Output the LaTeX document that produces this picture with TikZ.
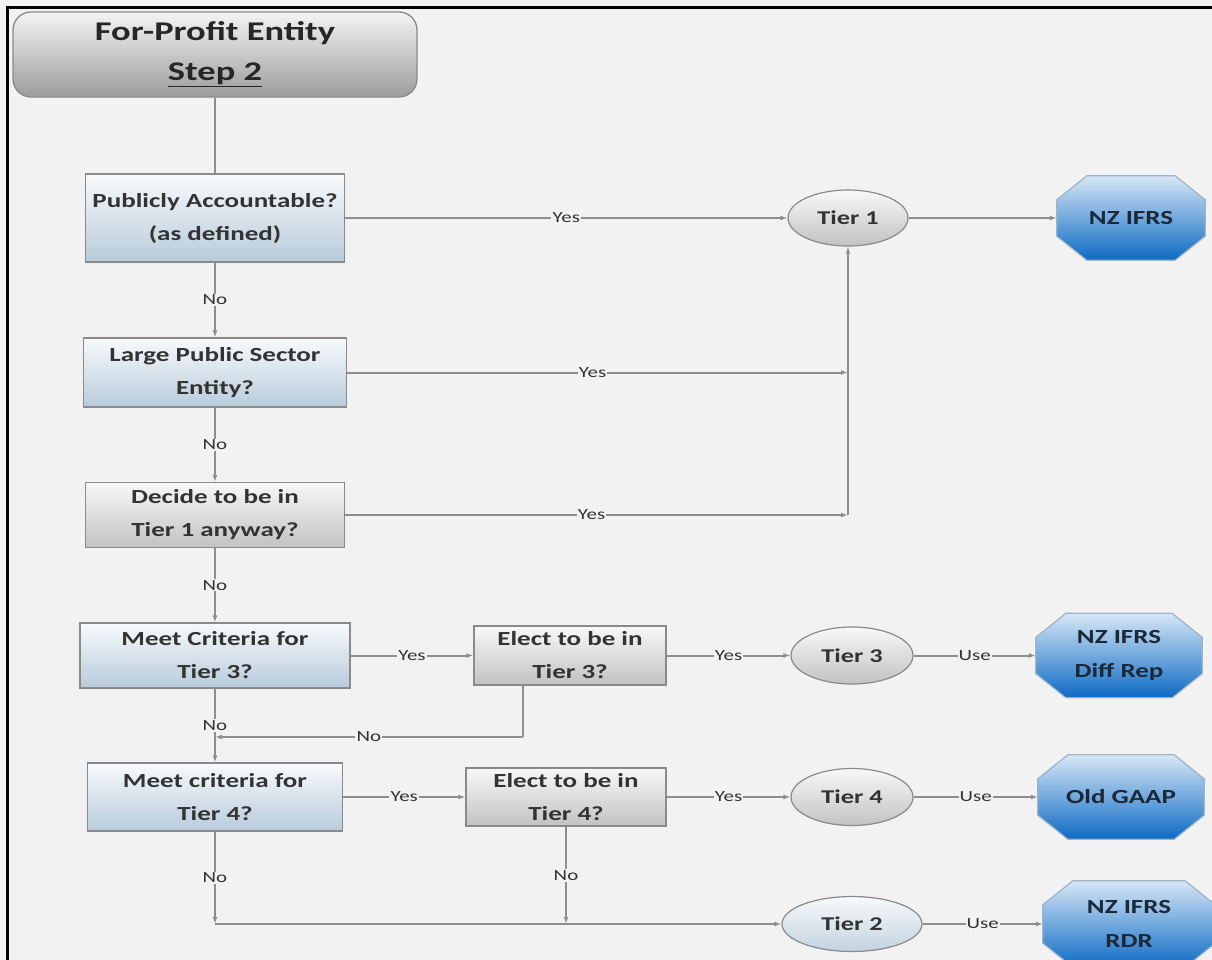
\documentclass[tikz,border=0pt]{standalone}
\usepackage{fontspec}
\setmainfont{Carlito}[FakeStretch=1.35]
\usetikzlibrary{arrows.meta,calc,backgrounds,shapes.geometric}
\definecolor{bg}{HTML}{F2F2F2}
\definecolor{boxline}{HTML}{8A8A8A}
\definecolor{linec}{HTML}{8E8E8E}
\definecolor{blueTop}{HTML}{F8FAFC}
\definecolor{blueBot}{HTML}{B8CBDB}
\definecolor{grayTop}{HTML}{F8F8F8}
\definecolor{grayBot}{HTML}{C2C2C2}
\definecolor{titleTop}{HTML}{F4F4F4}
\definecolor{titleBot}{HTML}{9C9C9C}
\definecolor{octTop}{HTML}{D6E7F6}
\definecolor{octBot}{HTML}{0D6AC3}
\definecolor{octLine}{HTML}{9FB3C6}
\definecolor{txt}{HTML}{333333}
\definecolor{octTxt}{HTML}{1B2838}
\tikzset{
  boxblue/.style={draw=boxline, line width=1.3pt, top color=blueTop, bottom color=blueBot,
    text=txt, font=\bfseries\fontsize{20}{33}\selectfont, align=center, inner sep=0pt},
  boxgray/.style={boxblue, top color=grayTop, bottom color=grayBot},
  tier/.style={ellipse, draw=boxline, line width=1.2pt, top color=grayTop, bottom color=grayBot,
    text=txt, font=\bfseries\fontsize{19.5}{22}\selectfont, inner sep=0pt,
    minimum width=122, minimum height=57},
  octo/.style={inner sep=0pt, align=center, text=octTxt,
    font=\bfseries\fontsize{20}{34}\selectfont},
  octshape/.style={draw=octLine, line width=1.2pt, top color=octTop, bottom color=octBot},
  lbl/.style={fill=bg, inner sep=1.2pt, text=txt, font=\fontsize{15.5}{16}\selectfont},
  conn/.style={draw=linec, line width=2pt},
  arr/.style={conn, -{Latex[length=7pt,width=5pt]}}
}
\newcommand{\octpath}[1]{%
  ($(#1.north west)+(30,0)$) -- ($(#1.north east)+(-30,0)$) --
  ($(#1.north east)+(0,24)$) -- ($(#1.south east)+(0,-24)$) --
  ($(#1.south east)+(-30,0)$) -- ($(#1.south west)+(30,0)$) --
  ($(#1.south west)+(0,-24)$) -- ($(#1.north west)+(0,24)$) -- cycle}
\begin{document}
\begin{tikzpicture}[x=1pt, y=-1pt]
\useasboundingbox (0,0) rectangle (1212,960);
\begin{scope}[on background layer]
  \fill[bg] (-10,-10) rectangle (1225,975);
\end{scope}

% title
\node[draw=boxline, line width=1.3pt, rounded corners=18pt, top color=titleTop, bottom color=titleBot,
  text=black!85, font=\bfseries\fontsize{27}{40}\selectfont, align=center, inner sep=0pt,
  minimum width=404, minimum height=85] (title) at (215,54.5) {For-Profit Entity\\\underline{Step 2}};

% left column
\node[boxblue, minimum width=259, minimum height=88] (b1) at (215,218) {Publicly Accountable?\\(as defined)};
\node[boxblue, minimum width=263, minimum height=69] (b2) at (215,372.5) {Large Public Sector\\Entity?};
\node[boxgray, minimum width=259, minimum height=65] (b3) at (215,515) {Decide to be in\\Tier 1 anyway?};
\node[boxblue, minimum width=270, minimum height=65] (b4) at (215,655.5) {Meet Criteria for\\Tier 3?};
\node[boxgray, minimum width=192, minimum height=59] (b5) at (570,655.5) {Elect to be in\\Tier 3?};
\node[boxblue, minimum width=255, minimum height=68] (b6) at (215,797) {Meet criteria for\\Tier 4?};
\node[boxgray, minimum width=200, minimum height=58] (b7) at (566,797) {Elect to be in\\Tier 4?};

% tiers
\node[tier, minimum width=120, minimum height=56] (t1) at (848,218) {Tier 1};
\node[tier] (t3) at (852,655.5) {Tier 3};
\node[tier] (t4) at (852,797) {Tier 4};
\node[tier, top color=blueTop, bottom color=blueBot!85, minimum width=140, minimum height=55] (t2) at (852,924) {Tier 2};

% octagons
\node[octo, minimum width=148, minimum height=84] (o1) at (1131,218) {NZ IFRS};
\node[octo, minimum width=166, minimum height=84] (o3) at (1119,655.5) {NZ IFRS\\Diff Rep};
\node[octo, minimum width=166, minimum height=84] (o4) at (1121,797) {Old GAAP};
\node[octo, minimum width=172, minimum height=86] (o2) at (1129,924) {NZ IFRS\\RDR};
\begin{scope}[on background layer]
  \foreach \o in {o1,o3,o4,o2} {\path[octshape] \octpath{\o};}
\end{scope}

% connectors
\draw[conn] (title.south) -- (b1.north);
\draw[arr] (b1.south) -- node[lbl]{No} (b2.north);
\draw[arr] (b2.south) -- node[lbl]{No} (b3.north);
\draw[arr] (b3.south) -- node[lbl]{No} (b4.north);

\draw[arr] (b1.east) -- node[lbl]{Yes} (t1.west);
\coordinate (j2) at (t1.south |- b2.east);
\coordinate (j3) at (t1.south |- b3.east);
\draw[arr] (b2.east) -- node[lbl, pos=0.49]{Yes} (j2);
\draw[arr] (b3.east) -- node[lbl, pos=0.49]{Yes} (j3);
\draw[arr] (j3) -- (t1.south);
\draw[arr] (t1.east) -- (o1.west);

\draw[arr] (b4.east) -- node[lbl]{Yes} (b5.west);
\draw[arr] (b5.east) -- node[lbl]{Yes} (t3.west);
\draw[arr] (t3.east) -- node[lbl]{Use} (o3.west);
\draw[arr] (b4.south) -- node[lbl]{No} (b6.north);
\coordinate (k5) at ($(b5.south west)!0.255!(b5.south east)$);
\coordinate (m5) at (0,737);
\coordinate (k5b) at (k5 |- m5);
\draw[conn] (k5) -- (k5b);
\draw[arr] (k5b) -- node[lbl]{No} (b4.south |- k5b);

\draw[arr] (b6.east) -- node[lbl]{Yes} (b7.west);
\draw[arr] (b7.east) -- node[lbl]{Yes} (t4.west);
\draw[arr] (t4.east) -- node[lbl]{Use} (o4.west);
\coordinate (j6) at (b6.south |- t2.west);
\coordinate (j7) at (b7.south |- t2.west);
\draw[arr] (b6.south) -- node[lbl]{No} (j6);
\draw[arr] (b7.south) -- node[lbl]{No} (j7);
\draw[arr] (j6) -- (t2.west);
\draw[arr] (t2.east) -- node[lbl]{Use} (o2.west);

% frame
\draw[line width=2.8pt, black] (7.5,975) -- (7.5,7.5) -- (1225,7.5);
\end{tikzpicture}
\end{document}
